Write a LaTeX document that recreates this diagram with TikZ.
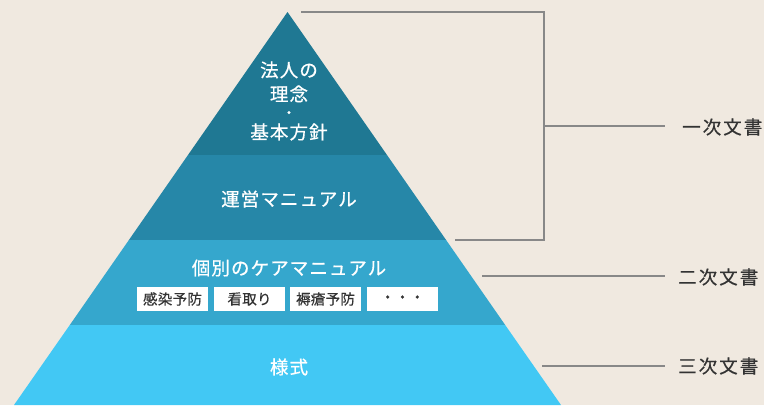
\documentclass[tikz,border=0pt]{standalone}
\usepackage{fontspec}
\setmainfont{Noto Sans CJK JP}
\newfontfamily\jpfont[LetterSpace=6,FakeBold=0.6]{Noto Sans CJK JP}
\newfontfamily\jplabfont[LetterSpace=11,FakeBold=0.6]{Noto Sans CJK JP}
\newfontfamily\jpboxfont[LetterSpace=2,FakeBold=0.5]{Noto Sans CJK JP}
\definecolor{bgc}{HTML}{F0E9E0}
\definecolor{lay1}{HTML}{1F7893}
\definecolor{lay2}{HTML}{2687A8}
\definecolor{lay3}{HTML}{35A7CD}
\definecolor{lay4}{HTML}{42C8F4}
\definecolor{linec}{HTML}{888888}
\definecolor{txtc}{HTML}{333333}
\begin{document}
\begin{tikzpicture}[x=1pt,y=-1pt,
  laytext/.style={text=white,font=\jpfont\fontsize{18.5}{22}\selectfont,align=center,inner sep=0pt},
  tagbox/.style={fill=white,minimum width=71pt,minimum height=24pt,inner sep=0pt,text=txtc,font=\jpboxfont\fontsize{14.5}{16}\selectfont},
  bracket/.style={draw=linec,line width=2.6pt},
  doclabel/.style={text=txtc,font=\jplabfont\fontsize{18.5}{20}\selectfont,anchor=west,inner sep=0pt}]
\fill[bgc] (0,0) rectangle (764,405);
\useasboundingbox (0,0) rectangle (764,405);
% pyramid layers
\fill[lay1] (287.5,12) -- (387,155) -- (188,155) -- cycle;
\fill[lay2] (188,155) -- (387,155) -- (446.1,240) -- (128.9,240) -- cycle;
\fill[lay3] (128.9,240) -- (446.1,240) -- (505.2,325) -- (69.8,325) -- cycle;
\fill[lay4] (69.8,325) -- (505.2,325) -- (561,405) -- (14,405) -- cycle;
% layer texts
\node[laytext] (t1) at (289,101) {法人の\\[2pt]理念\\[-5pt]{\fontsize{14}{13}\selectfont ・}\\[-1pt]基本方針};
\node[laytext] (t2) at (289,199) {運営マニュアル};
\node[laytext] (t3) at (289,268) {個別のケアマニュアル};
\node[laytext] (t4) at (289,367) {様式};
% tag boxes
\node[tagbox] (b1) at (172.5,299) {感染予防};
\node[tagbox] (b2) at (249.5,299) {看取り};
\node[tagbox] (b3) at (325.5,299) {褥瘡予防};
\node[tagbox] (b4) at (402.5,299) {・・・};
% bracket coordinates
\coordinate (a1) at (301,12);
\coordinate (a2) at (544,12);
\coordinate (a3) at (544,240);
\coordinate (a4) at (455,240);
\coordinate (am) at (544,126);
\coordinate (ae) at (665,126);
\coordinate (c1) at (482,276);
\coordinate (c2) at (665,276);
\coordinate (d1) at (542,366);
\coordinate (d2) at (665,366);
\draw[bracket] (a1) -- (a2) -- (a3) -- (a4);
\draw[bracket] (am) -- (ae);
\draw[bracket] (c1) -- (c2);
\draw[bracket] (d1) -- (d2);
% labels
\node[doclabel] (l1) at (682,127) {一次文書};
\node[doclabel] (l2) at (678,277) {二次文書};
\node[doclabel] (l3) at (678,366) {三次文書};
\end{tikzpicture}
\end{document}
